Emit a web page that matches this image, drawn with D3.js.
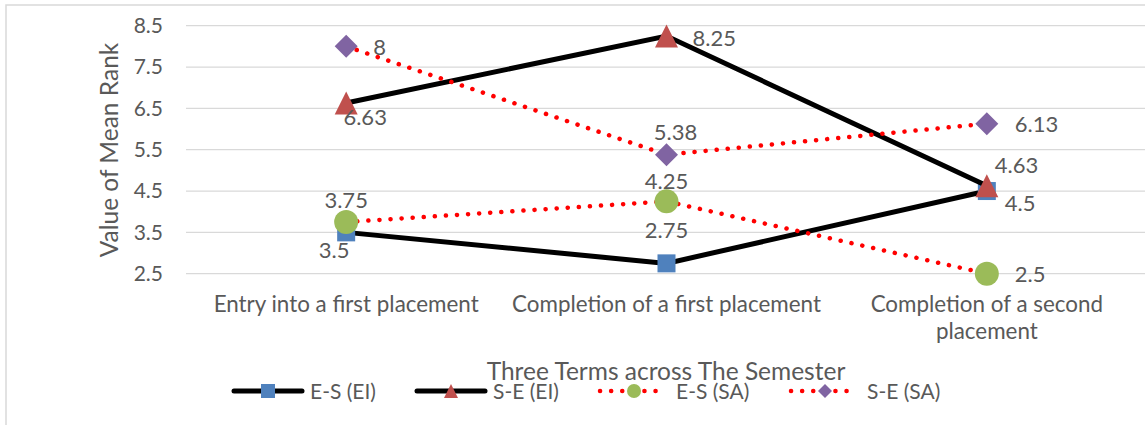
<!DOCTYPE html>
<html lang="en">
<head>
  <meta charset="UTF-8">
  <title>Mean Rank across Terms</title>
  <script src="https://d3js.org/d3.v7.min.js"></script>
  <style>
    body { margin: 0; background: white; }
    svg { display: block; font-family: Lato, "Noto Sans", sans-serif; }
    .grid line { stroke: #d9d9d9; stroke-width: 1.3px; }
    .lbl { fill: #595959; }
  </style>
</head>
<body>
<svg id="svg"></svg>
<script>
// data
const terms = ["Entry into a first placement", "Completion of a first placement", "Completion of a second placement"];
const seriesNames = ["E-S (EI)", "S-E (EI)", "E-S (SA)", "S-E (SA)"];
const esEI = [3.5, 2.75, 4.5];
const seEI = [6.63, 8.25, 4.63];
const esSA = [3.75, 4.25, 2.5];
const seSA = [8, 5.38, 6.13];
const yTicks = [2.5, 3.5, 4.5, 5.5, 6.5, 7.5, 8.5];

// label placement per point: [dx, dy, anchor]
const labelPos = [
  [[-12, 18, "middle"], [0, -33, "middle"], [18, 12, "start"]],
  [[19, 14, "middle"], [26, 2, "start"], [8, -20, "start"]],
  [[0, -22, "middle"], [0, -20, "middle"], [28, 1, "start"]],
  [[27, 1, "start"], [9, -22, "middle"], [28, 1, "start"]]
];

const width = 1145, height = 425;
const svg = d3.select("#svg").attr("width", width).attr("height", height);

const x = d3.scalePoint().domain(terms).range([186, 1147]).padding(0.5);
const y = d3.scaleLinear().domain([2.5, 8.5]).range([273.7, 25.7]);

// chart border
svg.append("rect")
  .attr("x", 6).attr("y", 5)
  .attr("width", width + 10).attr("height", height + 10)
  .attr("fill", "none").attr("stroke", "#d9d9d9").attr("stroke-width", 1.5);

// gridlines
svg.append("g").attr("class", "grid")
  .selectAll("line").data(yTicks).join("line")
  .attr("x1", 186).attr("x2", width)
  .attr("y1", d => y(d)).attr("y2", d => y(d));

// y tick labels
svg.append("g").selectAll("text").data(yTicks).join("text")
  .attr("class", "lbl")
  .attr("x", 163).attr("y", d => y(d))
  .attr("dy", "0.35em")
  .attr("text-anchor", "end")
  .attr("font-size", 21)
  .text(d => d.toFixed(1));

// x category labels
const xl = svg.append("g").selectAll("text").data(terms).join("text")
  .attr("class", "lbl")
  .attr("text-anchor", "middle")
  .attr("font-size", 22.4)
  .attr("x", d => x(d))
  .attr("y", 312);
xl.each(function(d, i) {
  const t = d3.select(this);
  if (i == 2) {
    t.append("tspan").attr("x", x(d)).text("Completion of a second");
    t.append("tspan").attr("x", x(d)).attr("dy", 27).text("placement");
  } else {
    t.text(d);
  }
});

// axis titles
svg.append("text").attr("class", "lbl")
  .attr("transform", "translate(118,150) rotate(-90)")
  .attr("text-anchor", "middle")
  .attr("font-size", 24.5)
  .text("Value of Mean Rank");

svg.append("text").attr("class", "lbl")
  .attr("x", 666).attr("y", 380)
  .attr("text-anchor", "middle")
  .attr("font-size", 24.5)
  .text("Three Terms across The Semester");

// series
const seriesVals = [esEI, seEI, esSA, seSA];
const colours = ["#4f81bd", "#c0504d", "#9bbb59", "#8064a2"];
const dotted = [false, false, true, true];

function marker(g, i, s) {
  if (i == 0) {
    g.append("rect").attr("x", -s / 2).attr("y", -s / 2).attr("width", s).attr("height", s)
      .attr("fill", colours[i]);
  } else if (i == 1) {
    g.append("path").attr("d", `M0,${-s/2}L${s/2},${s/2}L${-s/2},${s/2}Z`).attr("fill", colours[i]);
  } else if (i == 2) {
    g.append("circle").attr("r", s / 2).attr("fill", colours[i]);
  } else {
    g.append("path").attr("d", `M0,${-s/2}L${s/2},0L0,${s/2}L${-s/2},0Z`).attr("fill", colours[i]);
  }
}

const line = d3.line().x((d, j) => x(terms[j])).y(d => y(d));
const markerSize = [18, 23, 24, 23];

seriesVals.forEach((vals, i) => {
  const g = svg.append("g");
  g.append("path")
    .attr("d", line(vals))
    .attr("fill", "none")
    .attr("stroke", dotted[i] ? "#ff0000" : "#000000")
    .attr("stroke-width", dotted[i] ? 4.5 : 5)
    .attr("stroke-linecap", dotted[i] ? "round" : "butt")
    .attr("stroke-dasharray", dotted[i] ? "0.1 11" : null);
  vals.forEach((v, j) => {
    const m = g.append("g").attr("transform", `translate(${x(terms[j])},${y(v)})`);
    marker(m, i, markerSize[i]);
  });
});

// data labels (on top)
seriesVals.forEach((vals, i) => {
  svg.append("g").selectAll("text").data(vals).join("text")
    .attr("class", "lbl")
    .attr("font-size", 22)
    .attr("x", (d, j) => x(terms[j]) + labelPos[i][j][0])
    .attr("y", (d, j) => y(d) + labelPos[i][j][1])
    .attr("dy", "0.35em")
    .attr("text-anchor", (d, j) => labelPos[i][j][2])
    .text(d => d);
});

// legend
const legendX = [232, 415, 599, 790];
const leg = svg.append("g").selectAll("g").data(seriesNames).join("g")
  .attr("transform", (d, i) => `translate(${legendX[i]},391)`);
leg.each(function(d, i) {
  const g = d3.select(this);
  g.append("line")
    .attr("x1", dotted[i] ? 1 : 2).attr("x2", dotted[i] ? 62 : 70)
    .attr("stroke", dotted[i] ? "#ff0000" : "#000000")
    .attr("stroke-width", dotted[i] ? 4.5 : 5)
    .attr("stroke-linecap", "round")
    .attr("stroke-dasharray", dotted[i] ? "0.1 11" : null);
  const m = g.append("g").attr("transform", `translate(${dotted[i] ? 35 : 36},0)`);
  marker(m, i, 14);
  g.append("text").attr("class", "lbl")
    .attr("x", dotted[i] ? 77 : 78).attr("y", 0).attr("dy", "0.37em")
    .attr("font-size", 21)
    .text(d);
});
</script>
</body>
</html>
